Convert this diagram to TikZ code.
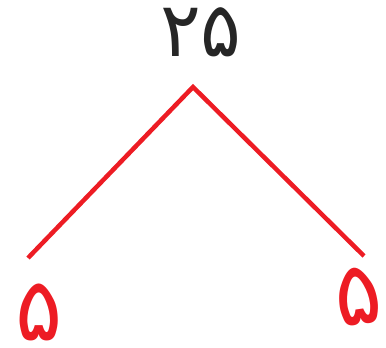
\documentclass[tikz,border=0pt]{standalone}
\usepackage{fontspec}
\newfontfamily\arabicfont[Script=Arabic]{DejaVu Sans}
\definecolor{penred}{RGB}{237,28,36}
\begin{document}
\begin{tikzpicture}[x=1pt,y=-1pt,
  leg/.style={draw=penred,line width=4.5pt},
  topnum/.style={font=\arabicfont\fontsize{76}{76}\selectfont,text=black!85,inner sep=0pt},
  handnum/.style={font=\arabicfont\fontsize{88}{88}\selectfont,text=penred,inner sep=0pt}]
\useasboundingbox (0,0) rectangle (386,348);
\node[topnum] (n25) at (201,32) {۲۵};
\coordinate (apex) at (193,87);
\coordinate (lend) at (28,258);
\coordinate (rend) at (364,256);
\draw[leg] (lend) -- (apex) -- (rend);
\node[handnum] (l5) at (39,312) {۵};
\node[handnum,rotate=8] (r5) at (358,296) {۵};
\end{tikzpicture}
\end{document}
